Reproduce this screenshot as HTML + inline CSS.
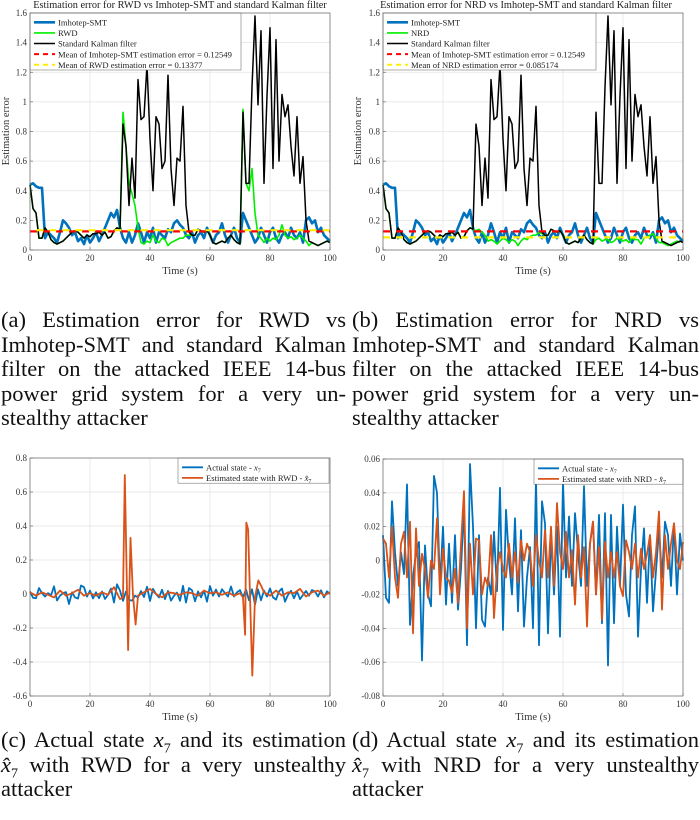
<!DOCTYPE html>
<html><head><meta charset="utf-8">
<style>
html,body{margin:0;padding:0;background:#fff;}
body{width:700px;height:820px;position:relative;overflow:hidden;font-family:"Liberation Serif",serif;}
svg{position:absolute;left:0;top:0;}
.cap{position:absolute;font-family:"Liberation Serif",serif;font-size:22.5px;line-height:24.5px;color:#111;width:345px;}
.cap div{text-align:justify;text-align-last:justify;white-space:nowrap;height:24.5px;}
.cap div.last{text-align-last:left;}
.cap i{font-family:"Liberation Serif",serif;}
</style></head>
<body>
<svg id="chart" width="700" height="820" xmlns="http://www.w3.org/2000/svg"></svg>

<div class="cap" style="left:1px;top:308px;">
<div>(a) Estimation error for RWD vs</div>
<div>Imhotep-SMT and standard Kalman</div>
<div>filter on the attacked IEEE 14-bus</div>
<div>power grid system for a very un-</div>
<div class="last">stealthy attacker</div>
</div>
<div class="cap" style="left:352px;top:308px;width:347px;">
<div>(b) Estimation error for NRD vs</div>
<div>Imhotep-SMT and standard Kalman</div>
<div>filter on the attacked IEEE 14-bus</div>
<div>power grid system for a very un-</div>
<div class="last">stealthy attacker</div>
</div>
<div class="cap" style="left:1px;top:728px;">
<div>(c) Actual state <i>x</i><sub style="font-size:14px">7</sub> and its estimation</div>
<div><i>x̂</i><sub style="font-size:14px">7</sub> with RWD for a very unstealthy</div>
<div class="last">attacker</div>
</div>
<div class="cap" style="left:352px;top:728px;width:347px;">
<div>(d) Actual state <i>x</i><sub style="font-size:14px">7</sub> and its estimation</div>
<div><i>x̂</i><sub style="font-size:14px">7</sub> with NRD for a very unstealthy</div>
<div class="last">attacker</div>
</div>

<script>
// ---- data ----
const timeSec = Array.from({length:101},(_, i)=>i);
const kalmanErr = [0.44,0.28,0.25,0.08,0.08,0.15,0.12,0.07,0.05,0.04,0.05,0.06,0.08,0.1,0.12,0.13,0.12,0.1,0.08,0.1,0.09,0.11,0.11,0.12,0.1,0.12,0.08,0.09,0.13,0.15,0.14,
0.85,0.7,0.3,0.62,0.35,1.15,0.88,0.9,1.25,0.75,0.4,0.9,0.85,0.55,0.6,1.18,0.55,0.3,0.62,0.6,0.97,0.3,0.12,
0.1,0.1,0.14,0.13,0.12,0.13,0.1,0.05,0.04,0.05,0.06,0.05,0.08,0.1,0.07,0.05,0.04,
0.93,0.45,0.45,1.1,1.58,0.98,1.48,0.45,1.04,1.5,0.55,1.42,0.6,1.05,0.9,0.98,0.7,0.5,0.9,0.45,0.63,0.2,0.06,0.05,0.04,0.03,0.04,0.05,0.06,0.05];
const imhotepErr = [0.44,0.45,0.43,0.42,0.42,0.08,0.12,0.1,0.08,0.05,0.12,0.2,0.18,0.15,0.1,0.12,0.06,0.08,0.04,0.1,0.05,0.08,0.12,0.06,0.1,0.15,0.2,0.25,0.22,0.27,0.15,
0.08,0.05,0.12,0.05,0.1,0.18,0.12,0.05,0.12,0.08,0.15,0.05,0.12,0.1,0.08,0.14,0.12,0.18,0.2,0.17,0.15,0.1,0.08,0.12,0.05,0.1,0.12,0.08,0.15,0.1,
0.05,0.1,0.12,0.18,0.1,0.05,0.1,0.15,0.08,0.05,0.25,0.2,0.15,0.1,0.05,0.08,0.15,0.1,0.05,0.12,0.15,0.08,0.05,0.1,0.12,0.08,0.15,0.1,0.08,0.12,
0.05,0.2,0.22,0.18,0.2,0.12,0.15,0.1,0.08,0.06];
const rwdErr = [0.44,0.28,0.25,0.08,0.08,0.15,0.12,0.07,0.05,0.04,0.05,0.06,0.08,0.1,0.12,0.13,0.12,0.1,0.08,0.1,0.09,0.11,0.11,0.12,0.1,0.12,0.08,0.09,0.13,0.15,0.14,
0.93,0.7,0.45,0.38,0.3,0.15,0.05,0.04,0.06,0.05,0.1,0.06,0.05,0.08,0.07,0.03,0.05,0.06,0.07,0.08,0.08,0.1,0.1,
0.1,0.1,0.14,0.13,0.12,0.13,0.1,0.05,0.04,0.05,0.06,0.05,0.08,0.1,0.07,0.05,0.04,
0.95,0.45,0.4,0.55,0.25,0.1,0.08,0.05,0.08,0.06,0.08,0.07,0.1,0.17,0.1,0.08,0.09,0.07,0.08,0.1,0.08,0.06,0.03,0.05,0.04,0.03,0.04,0.05,0.06,0.05];
const nrdErr = [0.44,0.28,0.25,0.08,0.08,0.15,0.12,0.07,0.05,0.04,0.05,0.06,0.08,0.1,0.12,0.13,0.12,0.1,0.08,0.1,0.09,0.11,0.11,0.12,0.1,0.12,0.08,0.09,0.13,0.15,0.14,
0.13,0.14,0.12,0.1,0.06,0.07,0.06,0.04,0.06,0.08,0.07,0.05,0.07,0.06,0.03,0.06,0.08,0.07,0.09,0.1,0.1,0.12,0.11,
0.1,0.1,0.14,0.13,0.12,0.13,0.1,0.05,0.04,0.05,0.06,0.05,0.08,0.1,0.07,0.05,0.04,
0.07,0.08,0.06,0.07,0.07,0.05,0.06,0.08,0.07,0.06,0.07,0.05,0.08,0.07,0.07,0.04,0.08,0.09,0.1,0.11,0.08,0.05,0.05,0.04,0.03,0.04,0.05,0.06,0.05];
const meanImhotep = 0.12549, meanRWD = 0.13377, meanNRD = 0.085174;
const actualState = [0.015,-0.022,-0.025,0.035,0.005,-0.015,0.005,-0.008,0.045,-0.038,-0.01,0.005,0.011,-0.059,0.009,-0.02,-0.027,0.05,0.04,-0.015,0.02,-0.026,0.01,-0.025,0.015,-0.029,-0.005,0.032,-0.05,0.057,0.02,
-0.04,0.015,-0.035,-0.039,-0.01,-0.02,0.017,-0.018,0.043,-0.041,0.03,0,-0.02,0.025,-0.03,0.018,-0.039,-0.01,0.008,-0.04,0.048,-0.05,0.035,0.022,-0.043,0.015,-0.02,0.02,-0.045,0.047,
-0.01,0.026,-0.015,0.028,0.005,-0.015,0.044,-0.015,0.01,0.023,-0.02,0.027,-0.037,0.028,-0.062,0.027,-0.037,0.02,-0.015,0.033,-0.02,-0.033,0.015,0.032,-0.045,-0.005,0.019,-0.025,0.015,-0.03,
-0.006,0.018,-0.01,0.023,0.015,-0.015,0.022,-0.02,0.016,0];
const nrdEstimate = [0.013,0.01,-0.01,0.02,-0.01,-0.022,0.01,0.017,-0.01,0.023,-0.043,0.019,-0.015,0.004,-0.005,-0.022,0,-0.005,0.025,-0.02,0.007,-0.01,-0.012,-0.019,-0.005,-0.025,0.01,0.041,-0.04,0.01,-0.02,
0.013,0.012,-0.02,-0.01,-0.015,0.015,-0.034,-0.005,0.005,-0.005,-0.01,0.01,-0.01,0.005,-0.013,0.012,0,0.01,0.005,-0.015,0.015,0,-0.01,0.018,-0.01,0.02,-0.015,0.034,0.005,-0.005,
0.017,-0.01,0.006,-0.026,0.015,-0.01,0.008,-0.039,0.01,0.023,-0.02,0.008,-0.035,0.011,-0.01,0.005,-0.01,0.005,-0.015,-0.021,0.012,0.005,-0.005,0.01,-0.01,0.007,-0.005,0.004,0.015,-0.01,
0.005,0.029,-0.029,0.015,-0.005,0.01,0.022,0,-0.005,0.011];
const rwdEstTime = [0,2,4,6,8,10,12,14,16,18,20,22,24,26,28,30,31,31.6,32.7,33.5,34.3,35.2,36,38,40,42,44,46,48,50,52,54,56,58,60,62,64,66,68,70,71,71.7,72.1,72.7,74.1,75,76.1,77,78,80,82,84,86,88,90,92,94,96,98,100];
const rwdEstimate = [0.01,-0.01,0.01,-0.005,-0.02,0.02,-0.01,0.005,0.025,-0.01,0.005,-0.01,0.01,-0.005,0.04,-0.03,-0.02,0.7,-0.33,0.33,0,-0.18,-0.01,0.01,0.03,0,-0.02,0.01,0.005,-0.005,0.01,0.005,-0.01,0.02,0.005,0.01,-0.005,0.01,-0.01,0.005,-0.02,-0.24,0.42,0.38,-0.48,-0.02,0.08,0.05,0.01,-0.01,0.02,-0.01,0.01,0.005,0.03,-0.015,0.01,0.02,-0.01,0.01];
const xTicks = [0,20,40,60,80,100];
const yTicksErr = [0,0.2,0.4,0.6,0.8,1,1.2,1.4,1.6];
const yTicksC = [-0.6,-0.4,-0.2,0,0.2,0.4,0.6,0.8];
const yTicksD = [-0.08,-0.06,-0.04,-0.02,0,0.02,0.04,0.06];

// ---- drawing ----
const NS='http://www.w3.org/2000/svg';
const svg=document.getElementById('chart');
function mk(tag,attrs,parent){const e=document.createElementNS(NS,tag);for(const k in attrs)e.setAttribute(k,attrs[k]);(parent||svg).appendChild(e);return e;}
function fmt(v){return String(+v.toFixed(4));}

function axes(p){
  const g=mk('g',{});
  
  
  const sx=v=>p.x0+(v-p.xmin)/(p.xmax-p.xmin)*(p.x1-p.x0);
  const sy=v=>p.y1-(v-p.ymin)/(p.ymax-p.ymin)*(p.y1-p.y0);
  p.sx=sx;p.sy=sy;p.g=g;
  mk('rect',{x:p.x0,y:p.y0,width:p.x1-p.x0,height:p.y1-p.y0,fill:'#fff'},g);
  xTicks.forEach(t=>{
    const gl=mk('line',{x1:sx(t),x2:sx(t),y1:p.y0,y2:p.y1,stroke:'#e3e3e3','stroke-width':0.7},g);
    
    const tl=mk('text',{x:sx(t),y:p.y1+11,'text-anchor':'middle','font-size':9,fill:'#333','font-family':'Liberation Serif, serif'},g);
    tl.textContent=t;
    
    mk('line',{x1:sx(t),x2:sx(t),y1:p.y1,y2:p.y1-3,stroke:'#555','stroke-width':0.6},g);
  });
  p.yTicks.forEach(t=>{
    const gl=mk('line',{x1:p.x0,x2:p.x1,y1:sy(t),y2:sy(t),stroke:'#e3e3e3','stroke-width':0.7},g);
    
    const tl=mk('text',{x:p.x0-3,y:sy(t)+3,'text-anchor':'end','font-size':9,fill:'#333','font-family':'Liberation Serif, serif'},g);
    tl.textContent=fmt(t);
    
    mk('line',{x1:p.x0,x2:p.x0+3,y1:sy(t),y2:sy(t),stroke:'#555','stroke-width':0.6},g);
  });
  return p;
}
function frame(p){
  const f=mk('rect',{x:p.x0,y:p.y0,width:p.x1-p.x0,height:p.y1-p.y0,fill:'none',stroke:'#666','stroke-width':0.7},p.g);
  
  const xl=mk('text',{x:(p.x0+p.x1)/2,y:p.y1+24,'text-anchor':'middle','font-size':10.5,fill:'#333','font-family':'Liberation Serif, serif'},p.g);
  xl.textContent='Time (s)';
  
}
function series(p,xs,ys,color,w,name){
  const d=ys.map((v,i)=>(i?'L':'M')+p.sx(xs[i]).toFixed(2)+','+p.sy(v).toFixed(2)).join('');
  const e=mk('path',{d:d,fill:'none',stroke:color,'stroke-width':w,'stroke-linejoin':'round'},p.g);
  
  
}
function hline(p,v,color,name,offset){
  const e=mk('line',{x1:p.x0,x2:p.x1,y1:p.sy(v),y2:p.sy(v),stroke:color,'stroke-width':2.2,'stroke-dasharray':'7,6','stroke-dashoffset':offset},p.g);
  
  
}
function legend(p,x,y,w,entries,fs,rowH){
  const g=mk('g',{},p.g);
  
  
  mk('rect',{x:x,y:y,width:w,height:entries.length*rowH+4,fill:'#fff',stroke:'#777','stroke-width':0.6},g);
  entries.forEach((en,i)=>{
    const cy=y+4+rowH*i+rowH/2;
    const eg=mk('g',{},g);
    
    
    mk('line',{x1:x+4,x2:x+25,y1:cy,y2:cy,stroke:en.c,'stroke-width':en.w,'stroke-dasharray':en.dash||'none'},eg);
    const t=mk('text',{x:x+28,y:cy+3.2,'font-size':fs,fill:'#222','font-family':'Liberation Serif, serif'},eg);
    t.innerHTML=en.t;
  });
}
function ylabel(x,y,txt){
  const t=mk('text',{x:x,y:y,'text-anchor':'middle','font-size':10.5,fill:'#333','font-family':'Liberation Serif, serif',transform:'rotate(-90 '+x+' '+y+')'});
  t.textContent=txt;
  
}
function title(x,y,txt){
  const t=mk('text',{x:x,y:y,'text-anchor':'middle','font-size':10.3,fill:'#222','font-family':'Liberation Serif, serif'});
  t.textContent=txt;
  
}

// Chart A
const A=axes({name:'chart-a-rwd-error',x0:30,x1:330,y0:13,y1:250,xmin:0,xmax:100,ymin:0,ymax:1.6,yTicks:yTicksErr});
series(A,timeSec,imhotepErr,'#0072BD',2.6,'imhotep-smt-line');
series(A,timeSec,rwdErr,'#00ee00',1.6,'rwd-line');
series(A,timeSec,kalmanErr,'#000',1.5,'kalman-line');
hline(A,meanImhotep,'#ff0000','mean-imhotep-line',0);
hline(A,meanRWD,'#ffee00','mean-rwd-line',6.5);
legend(A,30,13,211,[{t:'Imhotep-SMT',c:'#0072BD',w:2.6},{t:'RWD',c:'#00ee00',w:1.6},{t:'Standard Kalman filter',c:'#000',w:1.5},{t:'Mean of Imhotep-SMT estimation error = 0.12549',c:'#ff0000',w:2,dash:'5,4'},{t:'Mean of RWD estimation error = 0.13377',c:'#ffee00',w:2,dash:'5,4'}],8.6,10.6);
frame(A);
title(180,8,'Estimation error for RWD vs Imhotep-SMT and standard Kalman filter');
ylabel(9,131,'Estimation error');

// Chart B
const B=axes({name:'chart-b-nrd-error',x0:383,x1:683,y0:13,y1:250,xmin:0,xmax:100,ymin:0,ymax:1.6,yTicks:yTicksErr});
series(B,timeSec,imhotepErr,'#0072BD',2.6,'imhotep-smt-line');
series(B,timeSec,nrdErr,'#00ee00',1.6,'nrd-line');
series(B,timeSec,kalmanErr,'#000',1.5,'kalman-line');
hline(B,meanImhotep,'#ff0000','mean-imhotep-line',0);
hline(B,meanNRD,'#ffee00','mean-nrd-line',0);
legend(B,383,13,213,[{t:'Imhotep-SMT',c:'#0072BD',w:2.6},{t:'NRD',c:'#00ee00',w:1.6},{t:'Standard Kalman filter',c:'#000',w:1.5},{t:'Mean of Imhotep-SMT estimation error = 0.12549',c:'#ff0000',w:2,dash:'5,4'},{t:'Mean of NRD estimation error = 0.085174',c:'#ffee00',w:2,dash:'5,4'}],8.6,10.6);
frame(B);
title(526,8,'Estimation error for NRD vs Imhotep-SMT and standard Kalman filter');
ylabel(361,131,'Estimation error');

// Chart C
const C=axes({name:'chart-c-rwd-state',x0:30,x1:330,y0:458,y1:696,xmin:0,xmax:100,ymin:-0.6,ymax:0.8,yTicks:yTicksC});
series(C,timeSec,actualState,'#0072BD',1.8,'actual-state-line');
series(C,rwdEstTime,rwdEstimate,'#D95319',1.8,'rwd-estimate-line');
legend(C,178,458,151,[{t:'Actual state - <tspan font-style="italic">x</tspan><tspan font-size="6" dy="2">7</tspan>',c:'#0072BD',w:1.8},{t:'Estimated state with RWD - <tspan font-style="italic">x̂</tspan><tspan font-size="6" dy="2">7</tspan>',c:'#D95319',w:1.8}],8.6,10.6);
frame(C);

// Chart D
const D=axes({name:'chart-d-nrd-state',x0:383,x1:683,y0:459,y1:696,xmin:0,xmax:100,ymin:-0.08,ymax:0.06,yTicks:yTicksD});
series(D,timeSec,actualState,'#0072BD',1.8,'actual-state-line');
series(D,timeSec,nrdEstimate,'#D95319',1.8,'nrd-estimate-line');
legend(D,534,459,149,[{t:'Actual state - <tspan font-style="italic">x</tspan><tspan font-size="6" dy="2">7</tspan>',c:'#0072BD',w:1.8},{t:'Estimated state with NRD - <tspan font-style="italic">x̂</tspan><tspan font-size="6" dy="2">7</tspan>',c:'#D95319',w:1.8}],8.6,10.6);
frame(D);
</script>
</body></html>
